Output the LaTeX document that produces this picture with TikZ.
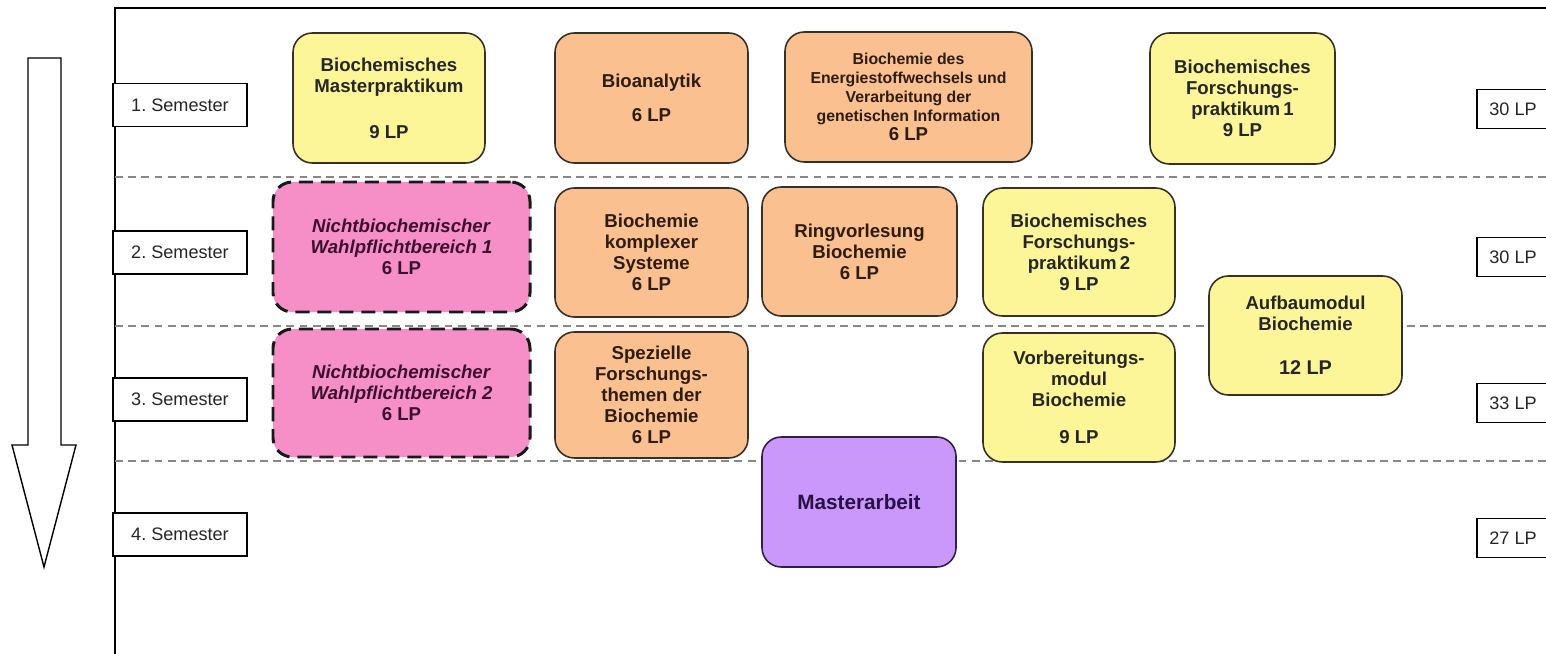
\documentclass[tikz,border=0pt]{standalone}
\usepackage{fontspec}
\setmainfont{Liberation Sans}
\frenchspacing
\definecolor{modyellow}{RGB}{252,246,152}
\definecolor{modorange}{RGB}{250,192,144}
\definecolor{modpink}{RGB}{246,142,200}
\definecolor{modpurple}{RGB}{202,152,250}
\definecolor{linecolor}{RGB}{55,48,38}
\definecolor{sepcolor}{RGB}{135,135,135}
\tikzset{
	modul/.style={
		rectangle,
		rounded corners=11pt,
		draw=linecolor,
		line width=0.9pt,
		inner sep=0pt,
		align=center,
		text=black!85,
		font=\bfseries\fontsize{10.6}{12}\selectfont
	},
	pflicht/.style={
		modul,
		fill=modyellow
	},
	vorlesung/.style={
		modul,
		fill=modorange,
		text={rgb,255:red,45;green,28;blue,15}
	},
	wahl/.style={
		modul,
		fill=modpink,
		draw=black!90,
		line width=1.7pt,
		dash pattern=on 8pt off 4.5pt,
		text={rgb,255:red,60;green,15;blue,45}
	},
	arbeit/.style={
		modul,
		fill=modpurple,
		draw={rgb,255:red,50;green,30;blue,70},
		text={rgb,255:red,40;green,17;blue,70},
		font=\bfseries\fontsize{11.8}{13}\selectfont
	},
	semester/.style={
		rectangle,
		draw=black,
		line width=0.8pt,
		fill=white,
		minimum width=2.68cm,
		minimum height=0.86cm,
		text=black!85,
		font=\fontsize{10.3}{12}\selectfont
	},
	summe/.style={
		semester,
		minimum width=1.44cm,
		minimum height=0.78cm
	},
	trenner/.style={
		draw=sepcolor,
		line width=0.6pt,
		dash pattern=on 4.5pt off 3pt
	},
}
\begin{document}
\begin{tikzpicture}
	\clip (0,0) rectangle (30.92,-13.08);
	\draw[line width=1pt] (30.92,-0.16) -- (2.30,-0.16) -- (2.30,-13.08);
	\draw[trenner] (2.30,-3.54) -- (30.92,-3.54);
	\draw[trenner] (2.30,-6.52) -- (30.92,-6.52);
	\draw[trenner] (2.30,-9.22) -- (30.92,-9.22);
	\draw[line width=0.8pt, fill=white] (0.56,-1.16) -- (1.22,-1.16) -- (1.22,-8.90) -- (1.52,-8.90)
		-- (0.88,-11.34) -- (0.24,-8.90) -- (0.56,-8.90) -- cycle;

	\node [semester] (s1) at (3.60,-2.10) {1. Semester};
	\node [semester] (s2) at (3.60,-5.05) {2. Semester};
	\node [semester] (s3) at (3.60,-7.99) {3. Semester};
	\node [semester] (s4) at (3.60,-10.69) {4. Semester};

	\node [summe] (lp1) at (30.26,-2.18) {30 LP};
	\node [summe] (lp2) at (30.26,-5.14) {30 LP};
	\node [summe] (lp3) at (30.26,-8.06) {33 LP};
	\node [summe] (lp4) at (30.26,-10.76) {27 LP};

	\node [pflicht, minimum width=3.84cm, minimum height=2.60cm] (mp) at (7.78,-1.96)
		{Biochemisches\\Masterpraktikum\\[14pt]9 LP};
	\node [vorlesung, minimum width=3.86cm, minimum height=2.60cm] (ba) at (13.03,-1.96)
		{Bioanalytik\\[7pt]6 LP};
	\node [vorlesung, minimum width=4.94cm, minimum height=2.60cm,
		font=\bfseries\fontsize{9}{10.8}\selectfont] (ew) at (18.17,-1.94)
		{Biochemie des\\Energiestoffwechsels und\\Verarbeitung der\\genetischen Information\\{\fontsize{10.6}{12}\selectfont 6 LP}};
	\node [pflicht, minimum width=3.70cm, minimum height=2.62cm] (fp1) at (24.85,-1.97)
		{Biochemisches\\Forschungs-\\praktikum\,1\\9 LP};

	\node [wahl, minimum width=5.14cm, minimum height=2.60cm] (wp1) at (8.03,-4.94)
		{\textit{Nichtbiochemischer}\\\textit{Wahlpflichtbereich 1}\\6 LP};
	\node [vorlesung, minimum width=3.86cm, minimum height=2.58cm] (ks) at (13.03,-5.05)
		{Biochemie\\komplexer\\Systeme\\6 LP};
	\node [vorlesung, minimum width=3.90cm, minimum height=2.58cm] (rv) at (17.19,-5.03)
		{Ringvorlesung\\Biochemie\\6 LP};
	\node [pflicht, minimum width=3.84cm, minimum height=2.56cm] (fp2) at (21.58,-5.04)
		{Biochemisches\\Forschungs-\\praktikum\,2\\9 LP};
	\node [pflicht, minimum width=3.86cm, minimum height=2.38cm] (am) at (26.11,-6.71)
		{Aufbaumodul\\Biochemie\\[13pt]{\fontsize{11.3}{12}\selectfont 12 LP}};

	\node [wahl, minimum width=5.14cm, minimum height=2.56cm] (wp2) at (8.03,-7.86)
		{\textit{Nichtbiochemischer}\\\textit{Wahlpflichtbereich 2}\\6 LP};
	\node [vorlesung, minimum width=3.86cm, minimum height=2.52cm] (sf) at (13.03,-7.90)
		{Spezielle\\Forschungs-\\themen der\\Biochemie\\6 LP};
	\node [pflicht, minimum width=3.84cm, minimum height=2.58cm] (vm) at (21.58,-7.95)
		{Vorbereitungs-\\modul\\Biochemie\\[9pt]9 LP};

	\node [arbeit, minimum width=3.88cm, minimum height=2.60cm] (ma) at (17.18,-10.04) {Masterarbeit};
\end{tikzpicture}
\end{document}
